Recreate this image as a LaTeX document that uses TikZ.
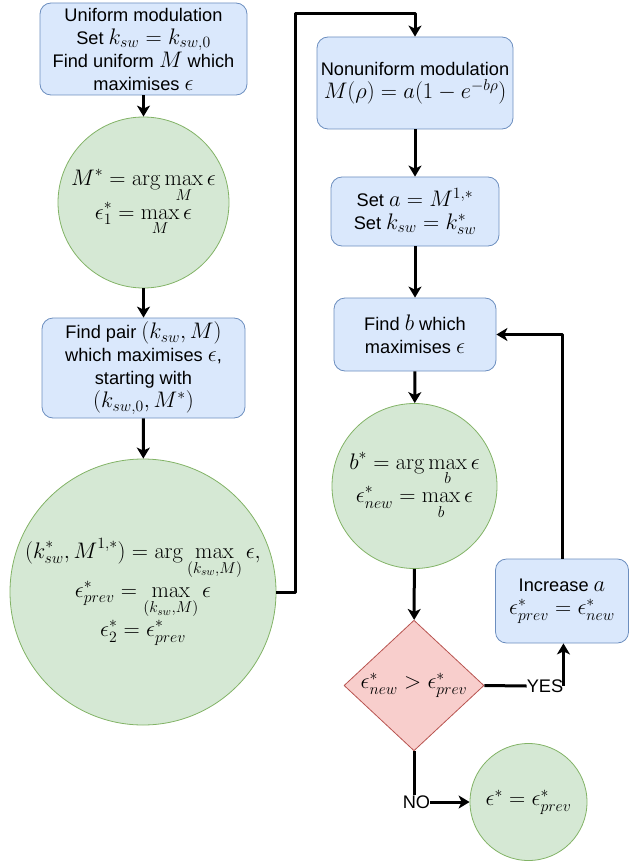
\RequirePackage{fix-cm}
\documentclass[tikz,border=0pt]{standalone}
\usepackage{amsmath,amssymb}
\usepackage[no-math]{fontspec}
\setmainfont{Liberation Sans}[Scale=0.81]
\usepackage{tikz}
\usetikzlibrary{shapes.geometric,arrows.meta}
\definecolor{boxfill}{HTML}{DAE8FC}
\definecolor{boxline}{HTML}{6C8EBF}
\definecolor{resfill}{HTML}{D5E8D4}
\definecolor{resline}{HTML}{82B366}
\definecolor{chkfill}{HTML}{F8CECC}
\definecolor{chkline}{HTML}{B85450}

\begin{document}
\begin{tikzpicture}[x=1pt,y=-1pt,>={Stealth[length=11pt,width=13pt,inset=3pt]},
    line join=round,font=\fontsize{22.5}{23}\selectfont,
    stepbox/.style={draw=boxline,fill=boxfill,rounded corners=11pt,line width=0.8pt,
                    align=center,inner sep=0pt},
    result/.style={circle,draw=resline,fill=resfill,line width=0.8pt,align=center,inner sep=0pt},
    check/.style={diamond,draw=chkline,fill=chkfill,line width=0.8pt,inner sep=0pt},
    flow/.style={->,line width=3pt}]
  \useasboundingbox (0,0) rectangle (629,861);
% ================= left column: uniform search =================
  \node[stepbox,minimum width=207pt,minimum height=92pt] (uni) at (143.5,49)
      {Uniform modulation\\Set $k_{sw}=k_{sw,0}$\\Find uniform $M$ which\\maximises $\epsilon$};
  \node[result,minimum size=171pt] (opt1) at (143.5,202.5)
      {$\displaystyle M^*=\arg\max_M\epsilon$\\[-1pt]$\displaystyle\epsilon^*_1=\max_M\epsilon$};
  \node[stepbox,minimum width=203pt,minimum height=100pt] (pair) at (143.5,368)
      {Find pair $(k_{sw},M)$\\which maximises $\epsilon$,\\starting with\\$(k_{sw,0},M^*)$};
  \node[result,minimum size=266pt] (opt2) at (143,592)
      {$\displaystyle (k^*_{sw},M^{1,*})=\arg\max_{(k_{sw},M)}\epsilon,$\\
       $\displaystyle\epsilon^*_{prev}=\max_{(k_{sw},M)}\epsilon$\\
       $\displaystyle\epsilon^*_2=\epsilon^*_{prev}$};
  \coordinate (turn) at (295,14);
% ================= right column: nonuniform search =================
  \node[stepbox,minimum width=196pt,minimum height=92pt] (nonu) at (415,83)
      {Nonuniform modulation\\$M(\rho)=a(1-e^{-b\rho})$};
  \node[stepbox,minimum width=168pt,minimum height=69pt] (seta) at (415,211.5)
      {Set $a=M^{1,*}$\\Set $k_{sw}=k^*_{sw}$};
  \node[stepbox,minimum width=162pt,minimum height=73pt] (findb) at (415,334.5)
      {Find $b$ which\\maximises $\epsilon$};
  \node[result,minimum size=165pt] (opt3) at (414.5,486)
      {$\displaystyle b^*=\arg\max_b\epsilon$\\[-1pt]$\displaystyle\epsilon^*_{new}=\max_b\epsilon$};
  \node[check,minimum width=140pt,minimum height=129pt] (test) at (414,685.5)
      {$\epsilon^*_{new}>\epsilon^*_{prev}$};
  \node[stepbox,minimum width=133pt,minimum height=84pt] (inc) at (562,601)
      {Increase $a$\\$\epsilon^*_{prev}=\epsilon^*_{new}$};
  \node[result,minimum size=117pt] (opt4) at (528.5,802) {$\epsilon^*=\epsilon^*_{prev}$};
  \node[inner sep=0pt] (yes) at (545,686) {YES};
  \node[inner sep=0pt] (no) at (416.5,802) {NO};
% ================= connectors =================
  \draw[flow] (uni) -- (opt1);
  \draw[flow] (opt1) -- (pair);
  \draw[flow] (pair) -- (opt2);
  \draw[flow] (opt2.east) -| (turn) -| (nonu.north);
  \draw[flow] (nonu) -- (seta);
  \draw[flow] (seta) -- (findb);
  \draw[flow] (findb) -- (opt3);
  \draw[flow] (opt3) -- (test);
  \draw[line width=3pt] (test.east) -- (yes.west);
  \draw[flow] (yes.east) -- (yes.east |- inc.south);
  \draw[flow] (inc.north) |- (findb.east);
  \draw[line width=3pt] (test.south) -- (test.south |- no.north);
  \draw[flow] (no.east) -- (opt4.west);
\end{tikzpicture}
\end{document}
